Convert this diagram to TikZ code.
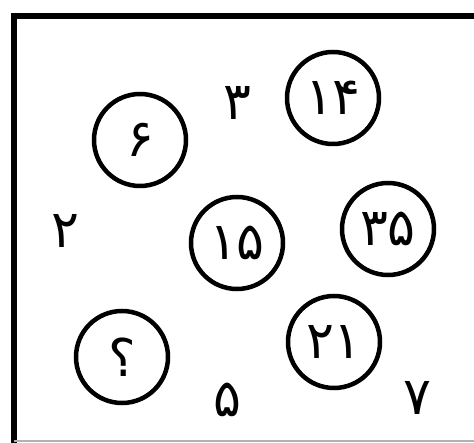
\documentclass[tikz,border=0pt]{standalone}
\usepackage{fontspec}
\newfontfamily\arabicfont[Script=Arabic]{DejaVu Sans}
\usetikzlibrary{calc}

\tikzset{
  numcirc/.style={circle, draw, line width=4.5pt, minimum size=92pt, inner sep=0pt,
    font=\arabicfont\fontsize{52}{52}\selectfont},
  freenum/.style={inner sep=0pt, font=\arabicfont\fontsize{52}{52}\selectfont}
}

\begin{document}
\begin{tikzpicture}[x=1pt, y=-1pt]
            \useasboundingbox (0,0) rectangle (474,443);
            % frame
            \path[draw, line width=6pt](14,443)to(14,16)to(474,16);
            \path[draw, line width=1.5pt, gray!60](14,441)to(474,441);

            % circled numbers
            \node[numcirc](c6)at(140,140){۶};
            \node[numcirc](c14)at(333,98){۱۴};
            \node[numcirc](c15)at(237,243){۱۵};
            \node[numcirc](c35)at(388,229){۳۵};
            \node[numcirc](c21)at(334,342){۲۱};
            \node[numcirc](cq)at(122,357){؟};

            % free numbers
            \node[freenum](n3)at(237,103){۳};
            \node[freenum](n2)at(65,231){۲};
            \node[freenum](n5)at(227,400){۵};
            \node[freenum](n7)at(417,398){۷};
        \end{tikzpicture}
\end{document}
